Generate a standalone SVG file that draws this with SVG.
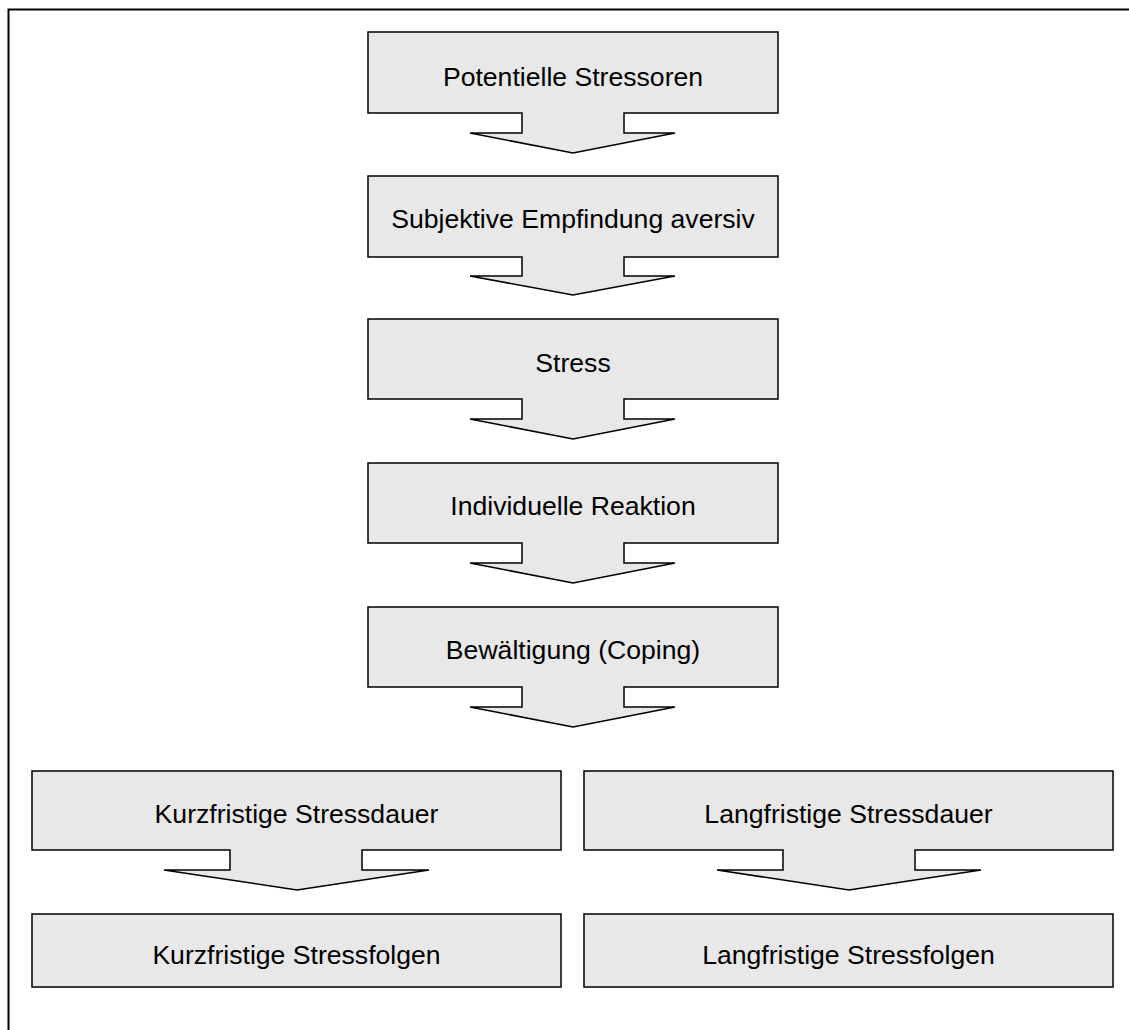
<svg xmlns="http://www.w3.org/2000/svg" width="1129" height="1030" viewBox="0 0 1129 1030">
<style>
.shape{fill:#e8e8e8;stroke:#000;stroke-width:1.5;stroke-linejoin:miter}
.lbl{font-family:"Liberation Sans",Arial,sans-serif;font-size:26.6px;fill:#000;text-anchor:middle}
.frame{fill:none;stroke:#000;stroke-width:2}
</style>
<rect width="1129" height="1030" fill="#fff"/>
<rect id="frame" class="frame" x="8.5" y="9.5" width="1200" height="1100"/>
<g id="connectors"></g>
<g id="n1">
  <path class="shape" d="M368,32 H778 V113 H624 V133 H675 L573,153 L470,133 H522 V113 H368 Z"/>
  <text class="lbl" x="573" y="86">Potentielle Stressoren</text>
</g>
<g id="n2">
  <path class="shape" d="M368,176 H778 V257 H624 V276 H675 L573,295 L470,276 H522 V257 H368 Z"/>
  <text class="lbl" x="573" y="228">Subjektive Empfindung aversiv</text>
</g>
<g id="n3">
  <path class="shape" d="M368,319 H778 V399 H624 V419 H675 L573,439 L470,419 H522 V399 H368 Z"/>
  <text class="lbl" x="573" y="372">Stress</text>
</g>
<g id="n4">
  <path class="shape" d="M368,463 H778 V543 H624 V563 H675 L573,583 L470,563 H522 V543 H368 Z"/>
  <text class="lbl" x="573" y="515">Individuelle Reaktion</text>
</g>
<g id="n5">
  <path class="shape" d="M368,607 H778 V687 H624 V707 H675 L573,727 L470,707 H522 V687 H368 Z"/>
  <text class="lbl" x="573" y="659">Bewältigung (Coping)</text>
</g>
<g id="n6">
  <path class="shape" d="M32,771 H561 V850 H362 V870 H429 L297,890 L164,870 H230 V850 H32 Z"/>
  <text class="lbl" x="296.5" y="823">Kurzfristige Stressdauer</text>
</g>
<g id="n7">
  <path class="shape" d="M584,771 H1113 V850 H915 V870 H981 L849,890 L717,870 H783 V850 H584 Z"/>
  <text class="lbl" x="848.5" y="823">Langfristige Stressdauer</text>
</g>
<g id="n8">
  <rect class="shape" x="32" y="914" width="529" height="73"/>
  <text class="lbl" x="296.5" y="964">Kurzfristige Stressfolgen</text>
</g>
<g id="n9">
  <rect class="shape" x="584" y="914" width="529" height="73"/>
  <text class="lbl" x="848.5" y="964">Langfristige Stressfolgen</text>
</g>
</svg>
